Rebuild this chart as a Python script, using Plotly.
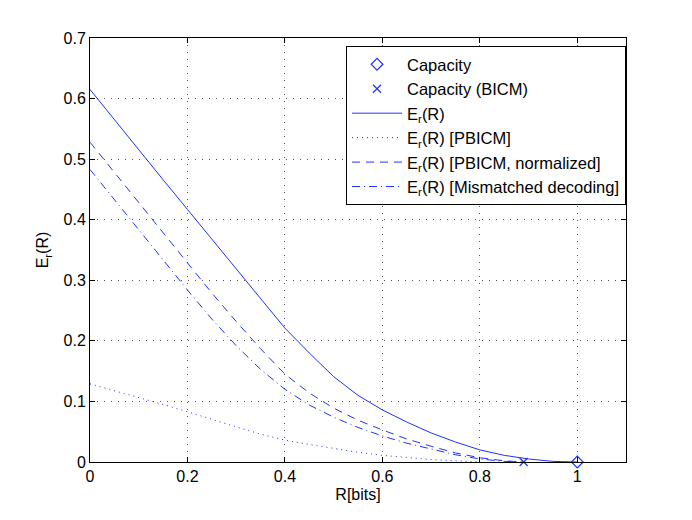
import plotly.graph_objects as go

# rate grid (bits) and exponent curves
R = [0, 0.05, 0.1, 0.15, 0.2, 0.25, 0.3, 0.35, 0.4, 0.45, 0.5,
     0.55, 0.6, 0.65, 0.7, 0.75, 0.8, 0.85, 0.9, 0.95, 1.0]
er = [0.615, 0.565, 0.516, 0.466, 0.417, 0.368, 0.318, 0.269, 0.221, 0.180, 0.141,
      0.110, 0.086, 0.066, 0.048, 0.033, 0.020, 0.011, 0.005, 0.001, 0.0]

R_pbicm = [0, 0.05, 0.1, 0.15, 0.2, 0.25, 0.3, 0.35, 0.4, 0.45, 0.5,
           0.55, 0.6, 0.65, 0.7, 0.75, 0.8]
er_pbicm = [0.129, 0.118, 0.107, 0.095, 0.083, 0.070, 0.058, 0.046, 0.036, 0.029, 0.022,
            0.016, 0.011, 0.007, 0.004, 0.002, 0.0]

R_bicm = [0, 0.05, 0.1, 0.15, 0.2, 0.25, 0.3, 0.35, 0.4, 0.45, 0.5,
          0.55, 0.6, 0.65, 0.7, 0.75, 0.8, 0.85, 0.89]
er_norm = [0.528, 0.478, 0.428, 0.378, 0.328, 0.279, 0.232, 0.187, 0.145, 0.114, 0.089,
           0.069, 0.053, 0.038, 0.026, 0.015, 0.007, 0.002, 0.0]
er_mism = [0.483, 0.433, 0.383, 0.333, 0.284, 0.236, 0.192, 0.153, 0.120, 0.094, 0.074,
           0.057, 0.043, 0.031, 0.021, 0.012, 0.005, 0.001, 0.0]

cap = [1.0]
cap_bicm = [0.89]

blue = "rgb(30,50,255)"
fnt = dict(family="Liberation Sans, Arial, sans-serif", size=16, color="black")
leg_fnt = dict(family="Liberation Sans, Arial, sans-serif", size=16.5, color="black")

fig = go.Figure()
fig.add_trace(go.Scatter(x=cap, y=[0], mode="markers", name="Capacity", cliponaxis=False,
                         legendgroup="a",
                         marker=dict(symbol="diamond-open", size=9, color=blue,
                                     line=dict(width=1.2, color=blue))))
fig.add_trace(go.Scatter(x=cap_bicm, y=[0], mode="markers", name="Capacity (BICM)",
                         cliponaxis=False, legendgroup="b",
                         marker=dict(symbol="x-thin-open", size=8, color=blue,
                                     line=dict(width=1.2, color=blue))))
fig.add_trace(go.Scatter(x=R, y=er, mode="lines", name="E<sub>r</sub>(R)", legendgroup="c",
                         line=dict(color=blue, width=1)))
fig.add_trace(go.Scatter(x=R_pbicm, y=er_pbicm, mode="lines", name="E<sub>r</sub>(R) [PBICM]",
                         legendgroup="d",
                         line=dict(color=blue, width=1, dash="1px,4px")))
fig.add_trace(go.Scatter(x=R_bicm, y=er_norm, mode="lines", legendgroup="e",
                         name="E<sub>r</sub>(R) [PBICM, normalized]",
                         line=dict(color=blue, width=1, dash="8px,6px")))
fig.add_trace(go.Scatter(x=R_bicm, y=er_mism, mode="lines", legendgroup="f",
                         name="E<sub>r</sub>(R) [Mismatched decoding]",
                         line=dict(color=blue, width=1, dash="8px,4px,1px,4px")))

axis_common = dict(showline=True, linecolor="black", linewidth=1, mirror="ticks",
                   ticks="inside", ticklen=5, tickcolor="black",
                   showgrid=True, gridcolor="#555", griddash="1px,6px", gridwidth=1,
                   zeroline=False, tickfont=fnt, automargin=False)

# page body adds an 8px offset, so the figure is sized to compensate
fig.update_layout(
    width=684, height=512,
    margin=dict(l=82, r=66, t=30, b=58),
    paper_bgcolor="white", plot_bgcolor="white",
    font=fnt,
    showlegend=True,
    legend=dict(x=1, xanchor="right", y=0.981, yanchor="top",
                bordercolor="black", borderwidth=1, bgcolor="white",
                font=leg_fnt, itemwidth=50, tracegroupgap=0),
    xaxis=dict(range=[0, 1.1], tickvals=[0, 0.2, 0.4, 0.6, 0.8, 1],
               ticktext=["0", "0.2", "0.4", "0.6", "0.8", "1"],
               title=dict(text="R[bits]", font=fnt, standoff=4), **axis_common),
    yaxis=dict(range=[0, 0.7], tickvals=[0, 0.1, 0.2, 0.3, 0.4, 0.5, 0.6, 0.7],
               ticktext=["0", "0.1", "0.2", "0.3", "0.4", "0.5", "0.6", "0.7"],
               title=dict(text="E<sub>r</sub>(R)", font=fnt, standoff=10), **axis_common),
)

fig.write_html("out.html")
